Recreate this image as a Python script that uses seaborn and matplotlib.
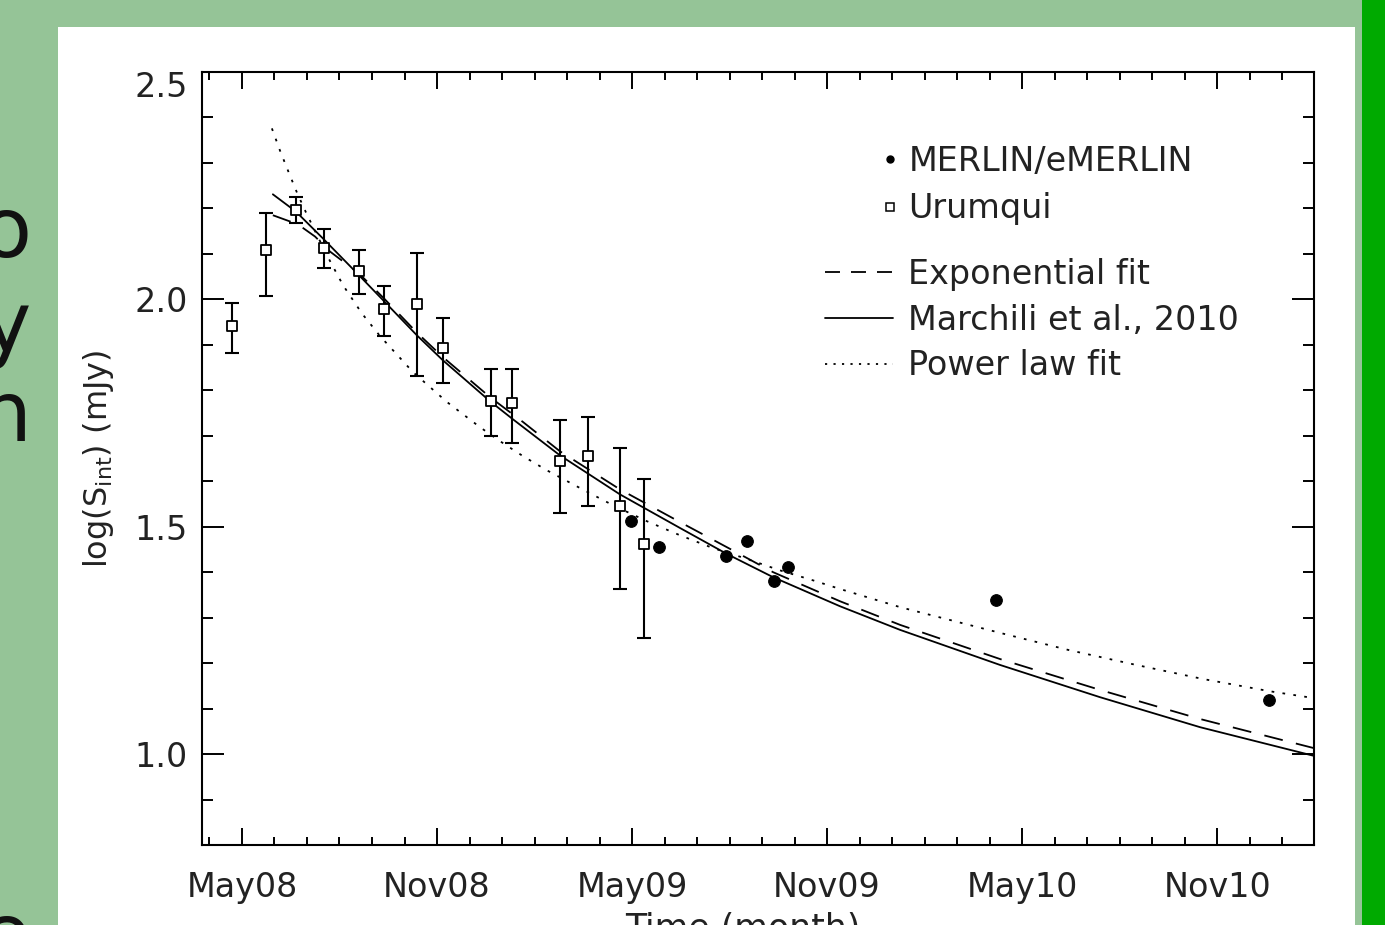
import matplotlib
matplotlib.use("Agg")
import matplotlib.pyplot as plt
import matplotlib.transforms as mtransforms
import seaborn as sns
import pandas as pd
from matplotlib.lines import Line2D
from matplotlib.patches import Rectangle
from matplotlib.ticker import MultipleLocator

# time axis in months since 1 May 2008
month_ticks = [0, 6, 12, 18, 24, 30]
month_labels = ["May08", "Nov08", "May09", "Nov09", "May10", "Nov10"]

# Urumqui points (log S) with error bar ends
urumqi_t = [-0.31, 0.75, 1.66, 2.52, 3.60, 4.37, 5.38, 6.18, 7.66, 8.31, 9.78, 10.65, 11.63, 12.37]
urumqi_s = [1.941, 2.108, 2.196, 2.114, 2.062, 1.978, 1.989, 1.892, 1.776, 1.771, 1.644, 1.655, 1.545, 1.462]
urumqi_hi = [1.991, 2.191, 2.224, 2.154, 2.108, 2.029, 2.101, 1.960, 1.846, 1.846, 1.734, 1.741, 1.673, 1.604]
urumqi_lo = [1.881, 2.007, 2.167, 2.068, 2.011, 1.919, 1.831, 1.815, 1.699, 1.684, 1.530, 1.545, 1.363, 1.255]

# MERLIN / eMERLIN points
merlin_t = [11.97, 12.83, 14.89, 15.54, 16.37, 16.80, 23.20, 31.60]
merlin_s = [1.512, 1.455, 1.435, 1.468, 1.380, 1.411, 1.338, 1.119]

# fitted curves
exp_t = [0.95, 1.72, 2.25, 2.71, 3.60, 4.37, 5.38, 6.18, 7.63, 8.65, 9.78, 11.63, 13.48,
         15.02, 16.34, 18.40, 20.25, 23.32, 26.40, 29.48, 32.98]
exp_s = [2.185, 2.165, 2.138, 2.105, 2.057, 2.002, 1.927, 1.873, 1.785, 1.730, 1.666, 1.582, 1.510,
         1.451, 1.400, 1.336, 1.284, 1.209, 1.141, 1.077, 1.013]

march_t = [0.95, 1.66, 2.49, 3.60, 4.37, 5.38, 6.18, 7.63, 8.34, 9.78, 11.63, 13.48, 14.92,
           16.34, 18.40, 20.25, 23.32, 26.40, 29.48, 32.98]
march_s = [2.231, 2.193, 2.134, 2.053, 1.996, 1.921, 1.866, 1.776, 1.736, 1.657, 1.571, 1.497, 1.440,
           1.389, 1.325, 1.273, 1.196, 1.125, 1.059, 0.996]

pow_t = [0.92, 1.17, 1.45, 1.69, 1.97, 2.31, 2.71, 3.11, 3.69, 4.25, 5.26, 6.31, 7.32, 7.94, 8.65,
         9.38, 10.40, 11.42, 12.46, 13.48, 14.49, 15.54, 16.55, 17.57, 18.40, 20.25, 23.35, 25.42,
         27.51, 29.57, 31.63, 32.98]
pow_s = [2.376, 2.327, 2.277, 2.235, 2.191, 2.141, 2.084, 2.031, 1.969, 1.919, 1.840, 1.774, 1.719,
         1.688, 1.655, 1.624, 1.585, 1.547, 1.512, 1.481, 1.453, 1.429, 1.404, 1.382, 1.363, 1.323,
         1.266, 1.229, 1.196, 1.165, 1.138, 1.123]

df_u = pd.DataFrame({"t": urumqi_t, "s": urumqi_s, "hi": urumqi_hi, "lo": urumqi_lo})
df_m = pd.DataFrame({"t": merlin_t, "s": merlin_s})
df_exp = pd.DataFrame({"t": exp_t, "s": exp_s})
df_mar = pd.DataFrame({"t": march_t, "s": march_s})
df_pow = pd.DataFrame({"t": pow_t, "s": pow_s})

sns.set_style("ticks")
plt.rcParams["font.family"] = ["DejaVu Sans"]
plt.rcParams["mathtext.fontset"] = "dejavusans"

W, H = 1385, 925
fig = plt.figure(figsize=(W / 100, H / 100), dpi=100, facecolor="#95c497")
fig.add_artist(Rectangle((58 / W, 0), (1355 - 58) / W, 1 - 27 / H, transform=fig.transFigure,
                         facecolor="white", edgecolor="none", zorder=0))
fig.add_artist(Rectangle((1362 / W, 0), 23 / W, 1, transform=fig.transFigure,
                         facecolor="#00aa00", edgecolor="none", zorder=0))

# cut-off slide text at the left edge
for ch, base in [("o", 257), ("y", 352), ("n", 441), ("e", 963)]:
    fig.text(31 / W, 1 - base / H, ch, ha="right", va="baseline", fontsize=60, color="#111111")

ax = fig.add_axes([202 / W, 80 / H, (1314 - 202) / W, (845 - 72) / H])
ax.set_facecolor("none")

ax.errorbar(df_u["t"], df_u["s"], yerr=[df_u["s"] - df_u["lo"], df_u["hi"] - df_u["s"]],
            fmt="none", ecolor="black", elinewidth=1.5, capsize=5, capthick=1.5, zorder=2)

sns.lineplot(data=df_exp, x="t", y="s", sort=False, estimator=None, color="black", lw=1.3,
             linestyle=(0, (10.5, 7.5)), ax=ax, zorder=2)
sns.lineplot(data=df_mar, x="t", y="s", sort=False, estimator=None, color="black", lw=1.3,
             ax=ax, zorder=2)
sns.lineplot(data=df_pow, x="t", y="s", sort=False, estimator=None, color="black", lw=1.3,
             linestyle=(0, (1.5, 4.6)), ax=ax, zorder=2)

sns.scatterplot(data=df_u, x="t", y="s", marker="s", s=55, color="white", edgecolor="black",
                linewidth=1.3, ax=ax, zorder=3)
sns.scatterplot(data=df_m, x="t", y="s", marker="o", s=70, color="black", edgecolor="black",
                linewidth=0.8, ax=ax, zorder=3)

ax.set_xlim(-1.23, 32.98)
ax.set_ylim(0.8, 2.5)
ax.set_xticks(month_ticks)
ax.set_xticklabels(month_labels)
ax.xaxis.set_minor_locator(MultipleLocator(1))
ax.set_yticks([1.0, 1.5, 2.0, 2.5])
ax.set_yticklabels(["1.0", "1.5", "2.0", "2.5"])
ax.yaxis.set_minor_locator(MultipleLocator(0.1))

for sp in ax.spines.values():
    sp.set_linewidth(1.5)
    sp.set_color("black")
    sp.set_visible(True)

ax.tick_params(which="both", direction="in", top=True, right=True, width=1.4, color="black",
               labelsize=24, labelcolor="#222222")
ax.tick_params(axis="x", which="major", length=12, pad=19)
ax.tick_params(axis="x", which="minor", length=6)
ax.tick_params(axis="y", which="major", length=16, pad=10)
ax.tick_params(axis="y", which="minor", length=8)

# the top y label sits a little below its tick in the original
top_lab = ax.get_yticklabels()[-1]
top_lab.set_transform(top_lab.get_transform() +
                      mtransforms.ScaledTranslation(0, -0.12, fig.dpi_scale_trans))

ax.set_ylabel(r"log(S$_{\rm int}$) (mJy)", fontsize=23, color="#222222")
ax.yaxis.set_label_coords(-0.077, 0.5)
ax.set_xlabel("Time (month)", fontsize=25, color="#222222", va="top")
ax.xaxis.set_label_coords(0.486, -0.087)

marker_handles = [
    Line2D([], [], ls="none", marker="o", ms=5, mfc="black", mec="black", label="MERLIN/eMERLIN"),
    Line2D([], [], ls="none", marker="s", ms=5.5, mfc="white", mec="black", mew=1.1, label="Urumqui"),
]
leg1 = ax.legend(handles=marker_handles, loc="upper left",
                 bbox_to_anchor=(880 / W, 1 - 145 / H), bbox_transform=fig.transFigure,
                 frameon=False, fontsize=24, handlelength=0.6, handletextpad=0.25,
                 labelspacing=0.43, borderpad=0, borderaxespad=0, numpoints=1)
for t in leg1.get_texts():
    t.set_color("#222222")
ax.add_artist(leg1)

line_handles = [
    Line2D([], [], color="black", lw=1.3, ls=(0, (8.3, 6.1)), label="Exponential fit"),
    Line2D([], [], color="black", lw=1.3, ls="-", label="Marchili et al., 2010"),
    Line2D([], [], color="black", lw=1.3, ls=(0, (1.2, 3.5)), label="Power law fit"),
]
leg2 = ax.legend(handles=line_handles, loc="upper left",
                 bbox_to_anchor=(825 / W, 1 - 258 / H), bbox_transform=fig.transFigure,
                 frameon=False, fontsize=24, handlelength=2.05, handletextpad=0.45,
                 labelspacing=0.38, borderpad=0, borderaxespad=0)
for t in leg2.get_texts():
    t.set_color("#222222")

fig.savefig("out.png", dpi=100, facecolor=fig.get_facecolor())
